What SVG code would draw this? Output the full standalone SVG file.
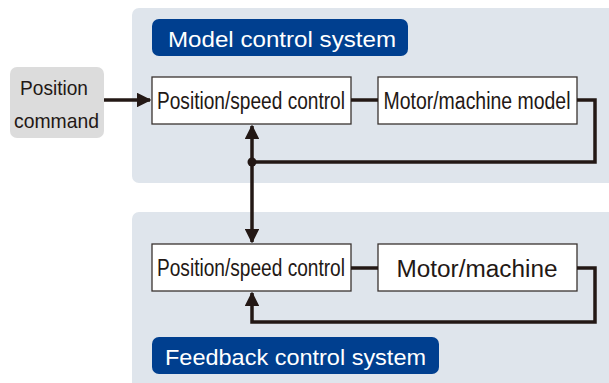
<svg xmlns="http://www.w3.org/2000/svg" width="609" height="383" viewBox="0 0 609 383">
<defs>
<style>
.panel{fill:#dfe5ec}
.tag{fill:#003f8f}
.tagt{fill:#fff;font-family:"Liberation Sans",Arial,sans-serif;font-size:22px}
.box{fill:#fff;stroke:#3a3330;stroke-width:1.3}
.bt{fill:#231815;font-family:"Liberation Sans",Arial,sans-serif;font-size:23px}
.pc{fill:#231815;font-family:"Liberation Sans",Arial,sans-serif;font-size:21px}
.ln{fill:none;stroke:#231815;stroke-width:3.5}
</style>
<marker id="ah" viewBox="0 0 10 10" refX="9" refY="5" markerWidth="4.2" markerHeight="4.2" orient="auto" markerUnits="strokeWidth">
<path d="M0,0 L10,5 L0,10 z" fill="#231815"/>
</marker>
</defs>
<g id="model-panel">
<rect class="panel" x="132" y="8" width="490" height="175" rx="7"/>
<rect class="tag" x="152" y="19" width="256" height="37" rx="7"/>
<text class="tagt" x="282" y="46.5" text-anchor="middle" textLength="228" lengthAdjust="spacingAndGlyphs">Model control system</text>
</g>
<g id="feedback-panel">
<rect class="panel" x="132" y="212" width="490" height="190" rx="7"/>
<rect class="tag" x="152" y="337" width="287" height="37" rx="7"/>
<text class="tagt" x="295.5" y="364.5" text-anchor="middle" textLength="261" lengthAdjust="spacingAndGlyphs">Feedback control system</text>
</g>
<g id="position-command">
<rect x="10" y="67" width="94" height="71" rx="7" fill="#dcdcdc"/>
<text class="pc" x="54" y="95" text-anchor="middle" textLength="68" lengthAdjust="spacingAndGlyphs">Position</text>
<text class="pc" x="56.5" y="128" text-anchor="middle" textLength="85" lengthAdjust="spacingAndGlyphs">command</text>
</g>
<g id="model-psc">
<rect class="box" x="152" y="77" width="199" height="47"/>
<text class="bt" x="251" y="109" text-anchor="middle" textLength="188" lengthAdjust="spacingAndGlyphs">Position/speed control</text>
</g>
<g id="model-motor">
<rect class="box" x="378" y="77" width="199" height="47"/>
<text class="bt" x="477" y="109" text-anchor="middle" textLength="187" lengthAdjust="spacingAndGlyphs">Motor/machine model</text>
</g>
<g id="fb-psc">
<rect class="box" x="152" y="244" width="199" height="47"/>
<text class="bt" x="251" y="276" text-anchor="middle" textLength="188" lengthAdjust="spacingAndGlyphs">Position/speed control</text>
</g>
<g id="fb-motor">
<rect class="box" x="378" y="244" width="199" height="47"/>
<text class="bt" x="477" y="277" text-anchor="middle" font-size="22" textLength="161" lengthAdjust="spacingAndGlyphs">Motor/machine</text>
</g>
<g id="connectors">
<path class="ln" d="M104,100 H150" marker-end="url(#ah)"/>
<path class="ln" d="M351,100 H378"/>
<path class="ln" d="M577,100 H595 V162 H252 V126" marker-end="url(#ah)"/>
<path class="ln" d="M252,162 V242" marker-end="url(#ah)"/>
<circle cx="252" cy="162" r="4.5" fill="#231815"/>
<path class="ln" d="M351,268 H378"/>
<path class="ln" d="M577,268 H595 V322 H252 V293" marker-end="url(#ah)"/>
</g>
</svg>
